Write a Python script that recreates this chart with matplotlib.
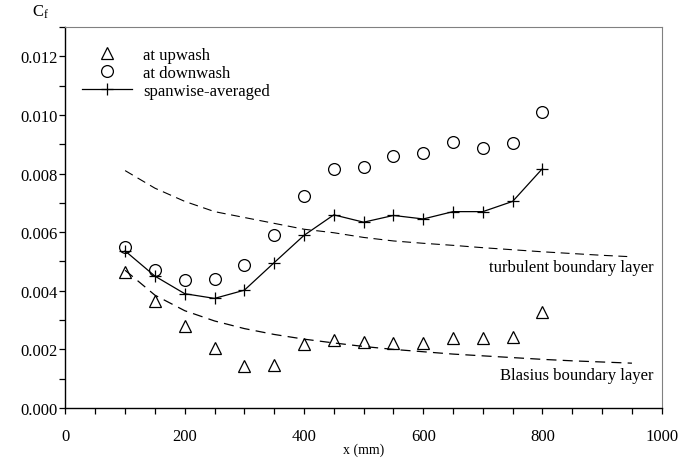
import numpy as np
import matplotlib
matplotlib.use("Agg")
import matplotlib.pyplot as plt

plt.rcParams['font.family'] = ['Liberation Serif', 'DejaVu Serif']
plt.rcParams['mathtext.fontset'] = 'custom'
plt.rcParams['mathtext.rm'] = 'Liberation Serif'
plt.rcParams['mathtext.it'] = 'Liberation Serif:italic'

# measured stations (mm)
x_pts = [100, 150, 200, 250, 300, 350, 400, 450, 500, 550, 600, 650, 700, 750, 800]

cf_upwash = [0.00463, 0.00366, 0.00280, 0.00205, 0.00145, 0.00148, 0.00219, 0.00233,
             0.00225, 0.00222, 0.00222, 0.00239, 0.00239, 0.00242, 0.00328]
cf_downwash = [0.00550, 0.00470, 0.00436, 0.00440, 0.00488, 0.00589, 0.00724, 0.00814,
               0.00823, 0.00860, 0.00870, 0.00907, 0.00888, 0.00903, 0.01009]
cf_average = [0.00536, 0.00450, 0.00390, 0.00374, 0.00402, 0.00496, 0.00589, 0.00659,
              0.00634, 0.00657, 0.00645, 0.00670, 0.00670, 0.00705, 0.00817]

# reference curves
x_ref = [100, 150, 200, 250, 300, 350, 400, 450, 500, 550, 600, 650, 700, 750, 800, 850, 900, 950]
cf_turbulent = [0.00810, 0.00750, 0.00705, 0.00670, 0.00650, 0.00630, 0.00610, 0.00598,
                0.00582, 0.00570, 0.00562, 0.00555, 0.00547, 0.00540, 0.00533, 0.00527,
                0.00521, 0.00516]
cf_blasius = [0.00470, 0.00385, 0.00332, 0.00297, 0.00271, 0.00251, 0.00235, 0.00222,
              0.00210, 0.00200, 0.00192, 0.00184, 0.00178, 0.00172, 0.00166, 0.00161,
              0.00157, 0.00153]

fig = plt.figure(figsize=(6.78, 4.64), dpi=100)
ax = fig.add_axes([0.0966, 0.1185, 0.8794, 0.8212])

ax.plot(x_ref, cf_turbulent, color='black', lw=0.8, dashes=(8, 5))
ax.plot(x_ref, cf_blasius, color='black', lw=0.9, dashes=(8, 5))

ax.plot(x_pts, cf_upwash, linestyle='none', marker='^', markersize=9,
        markerfacecolor='none', markeredgecolor='black', markeredgewidth=0.9,
        label='at upwash')
ax.plot(x_pts, cf_downwash, linestyle='none', marker='o', markersize=8.5,
        markerfacecolor='none', markeredgecolor='black', markeredgewidth=0.9,
        label='at downwash')
ax.plot(x_pts, cf_average, color='black', lw=0.9, marker='+', markersize=9,
        markeredgewidth=0.9, label='spanwise-averaged')

ax.set_xlim(0, 1000)
ax.set_ylim(0, 0.013)
ax.set_xticks(np.arange(0, 1001, 200))
ax.set_xticks(np.arange(0, 1001, 50), minor=True)
ax.set_yticks(np.arange(0, 0.0121, 0.002))
ax.set_yticks(np.arange(0, 0.0131, 0.001), minor=True)
ax.set_yticklabels(['%.3f' % v for v in np.arange(0, 0.0121, 0.002)])
ax.tick_params(which='both', direction='out', length=4, width=0.9,
               labelsize=12, top=False, right=False)
ax.tick_params(axis='y', pad=1.5)
ax.tick_params(axis='x', pad=10.5)

for s in ['top', 'right']:
    ax.spines[s].set_color('#808080')
    ax.spines[s].set_linewidth(0.8)
for s in ['left', 'bottom']:
    ax.spines[s].set_color('black')
    ax.spines[s].set_linewidth(1.0)

ax.set_xlabel('x (mm)', fontsize=10, labelpad=-1)
fig.text(0.047, 0.993, r'C$_\mathrm{f}$', fontsize=12, ha='left', va='top')

ax.text(711, 0.00480, 'turbulent boundary layer', fontsize=12, ha='left', va='center')
ax.text(728, 0.00112, 'Blasius boundary layer', fontsize=12, ha='left', va='center')

ax.legend(loc='upper left', bbox_to_anchor=(0.028, 0.947), frameon=False,
          fontsize=12, handlelength=3.0, handletextpad=0.65, labelspacing=0.1,
          borderpad=0, borderaxespad=0)

fig.savefig('out.png', dpi=100)
